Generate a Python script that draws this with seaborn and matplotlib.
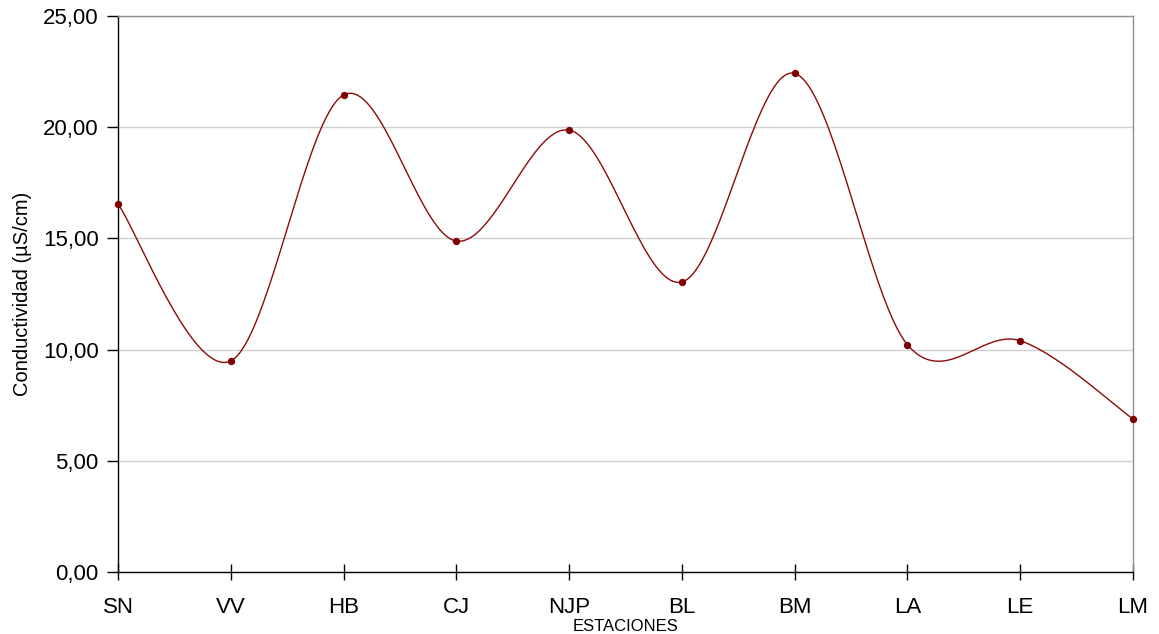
import numpy as np
import pandas as pd
import matplotlib
matplotlib.use("Agg")
import matplotlib.pyplot as plt
from matplotlib.ticker import FuncFormatter
import seaborn as sns

# Conductivity per sampling station
estaciones = ["SN", "VV", "HB", "CJ", "NJP", "BL", "BM", "LA", "LE", "LM"]
conductividad = [16.55, 9.49, 21.45, 14.88, 19.87, 13.04, 22.42, 10.22, 10.40, 6.88]
y_ticks = [0, 5, 10, 15, 20, 25]


def smooth_curve(xs, ys, steps=40):
    """Catmull-Rom style Bezier smoothing through every point."""
    px = np.concatenate([[xs[0]], xs, [xs[-1]]])
    py = np.concatenate([[ys[0]], ys, [ys[-1]]])
    out_x, out_y = [], []
    t = np.linspace(0, 1, steps)
    for i in range(1, len(px) - 2):
        p0 = np.array([px[i], py[i]])
        p3 = np.array([px[i + 1], py[i + 1]])
        p1 = p0 + (np.array([px[i + 1], py[i + 1]]) - np.array([px[i - 1], py[i - 1]])) / 6
        p2 = p3 - (np.array([px[i + 2], py[i + 2]]) - np.array([px[i], py[i]])) / 6
        b = ((1 - t) ** 3)[:, None] * p0 + (3 * (1 - t) ** 2 * t)[:, None] * p1 \
            + (3 * (1 - t) * t ** 2)[:, None] * p2 + (t ** 3)[:, None] * p3
        if i > 1:
            b = b[1:]
        out_x.extend(b[:, 0])
        out_y.extend(b[:, 1])
    return np.array(out_x), np.array(out_y)


sns.set_style("white")
plt.rcParams["font.family"] = ["Liberation Sans", "DejaVu Sans"]
plt.rcParams["text.color"] = "black"
plt.rcParams["axes.labelcolor"] = "black"
plt.rcParams["xtick.color"] = "black"
plt.rcParams["ytick.color"] = "black"

idx = np.arange(len(estaciones), dtype=float)
cx, cy = smooth_curve(idx, np.array(conductividad))
curve = pd.DataFrame({"x": cx, "y": cy})
points = pd.DataFrame({"x": idx, "y": conductividad})

fig = plt.figure(figsize=(11.59, 6.34), dpi=100)
ax = fig.add_axes([118 / 1159, 1 - 572 / 634, (1133 - 118) / 1159, (572 - 16) / 634])

color = "#8B0A0A"
sns.lineplot(data=curve, x="x", y="y", ax=ax, color=color, linewidth=1.0, sort=False)
sns.scatterplot(data=points, x="x", y="y", ax=ax, color="#800000", s=28,
                edgecolor="#800000", linewidth=0, zorder=5, clip_on=False)

ax.set_xlim(0, len(estaciones) - 1)
ax.set_ylim(0, 25)
ax.set_yticks(y_ticks)
ax.yaxis.set_major_formatter(FuncFormatter(lambda v, p: f"{v:.2f}".replace(".", ",")))
ax.set_xticks(idx)
ax.set_xticklabels(estaciones)

ax.grid(axis="y", color="#d0d0d0", linewidth=1.0)
ax.set_axisbelow(True)

for side in ["left", "bottom"]:
    ax.spines[side].set_color("black")
    ax.spines[side].set_linewidth(1.0)
for side in ["top", "right"]:
    ax.spines[side].set_color("#909090")
    ax.spines[side].set_linewidth(1.0)

ax.tick_params(axis="y", direction="out", length=8, width=1, color="black",
               labelcolor="black", labelsize=16, pad=6, left=True)
ax.tick_params(axis="x", direction="inout", length=12, width=1, color="black",
               labelcolor="black", labelsize=16, pad=12, bottom=True)

ax.set_xlabel("ESTACIONES", fontsize=12, labelpad=1, color="black")
ax.set_ylabel("Conductividad (µS/cm)", fontsize=14.5, labelpad=8, color="black")

fig.savefig("out.png", dpi=100)
